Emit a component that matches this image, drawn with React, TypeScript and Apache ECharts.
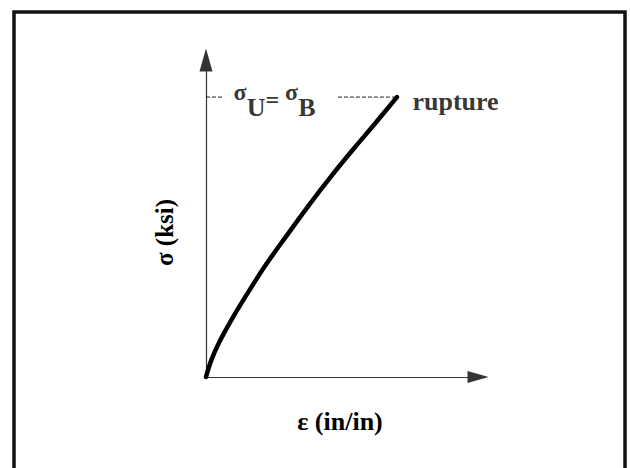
import { useEffect, useRef } from "react";
import * as echarts from "echarts";

// stress–strain curve (axis units 0..100)
const strain = [0, 2, 5, 10, 16, 22, 30, 38, 46, 54, 62, 70.2];
const stress = [0, 5.4, 11.2, 19.0, 27.4, 35.4, 45.0, 54.4, 63.3, 71.7, 79.8, 88.3];

const ruptureStrain = 70.2;
const ruptureStress = 88.3;
// dashed level line (split around the label)
const dashLeft = [0, 5.9];
const dashRight = [48.5, 70.2];
// label anchors
const ultimateLabelAt = [25.2, 87.3];

const axisMax = 100;

export default function App() {
  const ref = useRef<HTMLDivElement>(null);
  useEffect(() => {
    const chart = echarts.init(ref.current!, null, { renderer: "svg" });
    const font = "'Liberation Serif', 'Times New Roman', serif";
    const nameStyle = { fontFamily: font, fontWeight: "bold", fontSize: 26, color: "#000" };
    const axisCommon = {
      type: "value",
      min: 0,
      max: axisMax,
      nameLocation: "middle",
      nameTextStyle: nameStyle,
      axisTick: { show: false },
      axisLabel: { show: false },
      splitLine: { show: false },
    };
    chart.setOption({
      animation: false,
      backgroundColor: "#fff",
      grid: { left: 206, top: 60, right: 152, bottom: 91 },
      xAxis: {
        ...axisCommon,
        name: "ε (in/in)",
        nameGap: 31,
        nameTextStyle: { ...nameStyle, padding: [0, 4, 0, 0] },
        axisLine: {
          show: true,
          onZero: false,
          symbol: ["none", "triangle"],
          symbolSize: [12, 21],
          lineStyle: { color: "#333", width: 1.2 },
        },
      },
      yAxis: {
        ...axisCommon,
        name: "σ (ksi)",
        nameGap: 29,
        nameRotate: 90,
        nameTextStyle: { ...nameStyle, fontSize: 25, padding: [0, 28, 0, 0] },
        axisLine: {
          show: true,
          onZero: false,
          symbol: ["none", "triangle"],
          symbolSize: [13, 23],
          lineStyle: { color: "#333", width: 1.2 },
        },
      },
      series: [
        {
          type: "line",
          data: strain.map((x, i) => [x, stress[i]]),
          smooth: 0.4,
          symbol: "none",
          lineStyle: { color: "#000", width: 4.5, cap: "round" },
          z: 5,
        },
        {
          type: "line",
          data: dashLeft.map((x) => [x, ruptureStress]),
          symbol: "none",
          lineStyle: { color: "#222", width: 1, type: [4, 2] },
        },
        {
          type: "line",
          data: dashRight.map((x) => [x, ruptureStress]),
          symbol: "none",
          lineStyle: { color: "#222", width: 1, type: [4, 2] },
        },
        {
          type: "scatter",
          symbolSize: 1,
          itemStyle: { color: "rgba(0,0,0,0)" },
          silent: true,
          data: [
            {
              value: ultimateLabelAt,
              label: {
                show: true,
                position: "inside",
                formatter: "{a|σ}{b|U}{c|=}{a| σ}{b|B}",
                fontFamily: font,
                fontWeight: "bold",
                color: "#000",
                rich: {
                  a: { fontFamily: font, fontWeight: "bold", fontSize: 24, lineHeight: 22, verticalAlign: "top", color: "#000" },
                  b: { fontFamily: font, fontWeight: "bold", fontSize: 26, lineHeight: 24, verticalAlign: "bottom", color: "#000" },
                  c: { fontFamily: font, fontWeight: "bold", fontSize: 24, lineHeight: 41, verticalAlign: "middle", color: "#000" },
                },
              },
            },
            {
              value: [ruptureStrain, ruptureStress],
              label: {
                show: true,
                position: "right",
                distance: 15,
                offset: [0, 4],
                formatter: "rupture",
                fontFamily: font,
                fontWeight: "bold",
                fontSize: 26,
                color: "#000",
              },
            },
          ],
        },
      ],
      graphic: [
        {
          type: "rect",
          silent: true,
          shape: { x: 14, y: 12, width: 611, height: 500 },
          style: { fill: "none", stroke: "#111", lineWidth: 3.5 },
        },
      ],
    });
    return () => chart.dispose();
  }, []);
  return (
    <div
      ref={ref}
      style={{ position: "fixed", left: 0, top: 0, width: 630, height: 468 }}
    />
  );
}
